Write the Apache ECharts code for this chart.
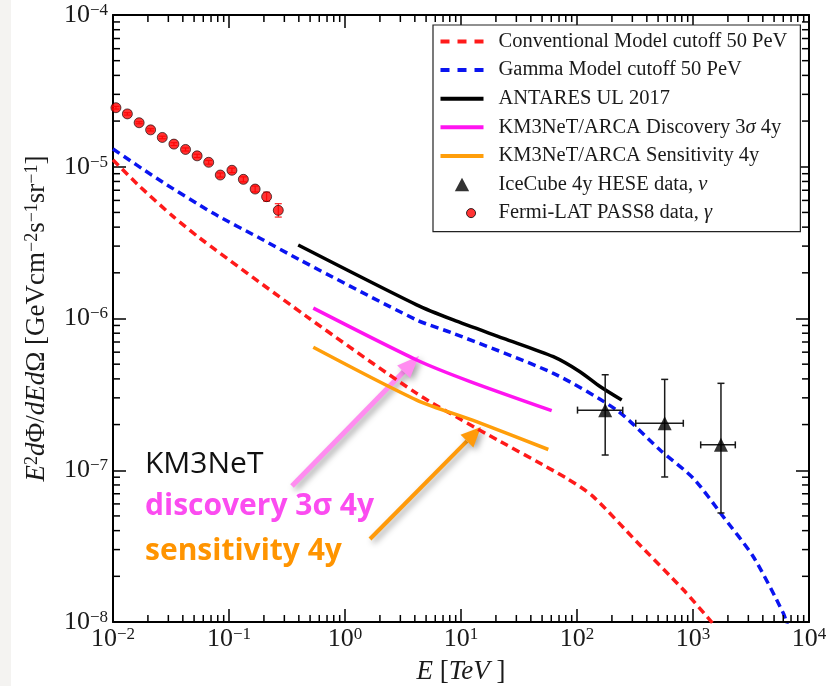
<!DOCTYPE html>
<html><head><meta charset="utf-8">
<script src="https://cdn.jsdelivr.net/npm/echarts@6/dist/echarts.min.js"></script>
<style>html,body{margin:0;padding:0;background:#fff;}#c{width:837px;height:686px;}</style>
</head><body><div id="c"></div>
<script>
// ---------------- data ----------------
const conventionalE = [0.01, 0.0171, 0.0331, 0.0562, 0.468, 4.15, 13.6, 81.5, 138, 327, 826, 1355, 1710];
const conventionalF = [1.11e-5, 7.39e-6, 4.69e-6, 3.38e-6, 1.03e-6, 3.21e-7, 1.89e-7, 8.85e-8, 6.7e-8, 3.38e-8, 1.63e-8, 1.06e-8, 8.6e-9];

const gammaE = [0.01, 0.0238, 0.0733, 0.185, 0.409, 4.15, 8.59, 62.5, 220, 520, 1007, 1824, 3311, 6010, 6800];
const gammaF = [1.31e-5, 8.39e-6, 4.93e-6, 3.38e-6, 2.43e-6, 9.78e-7, 7.98e-7, 4.35e-7, 2.49e-7, 1.36e-7, 8.85e-8, 4.94e-8, 2.69e-8, 1.14e-8, 8.5e-9];

const antaresE = [0.395, 4.15, 8.59, 23.2, 62.5, 106, 158, 243];
const antaresF = [3.05e-6, 1.23e-6, 9.78e-7, 7.40e-7, 5.6e-7, 4.46e-7, 3.56e-7, 2.90e-7];

const discoveryE = [0.533, 4.15, 12.0, 60.5];
const discoveryF = [1.17e-6, 5.33e-7, 3.84e-7, 2.47e-7];

const sensitivityE = [0.533, 4.15, 13.6, 56.6];
const sensitivityF = [6.46e-7, 2.90e-7, 2.09e-7, 1.37e-7];

const iceE    = [175, 570, 1742];
const iceELo  = [101, 321, 1165];
const iceEHi  = [248, 825, 2316];
const iceF    = [2.49e-7, 2.04e-7, 1.47e-7];
const iceFLo  = [1.26e-7, 9.03e-8, 5.23e-8];
const iceFHi  = [4.26e-7, 3.97e-7, 3.74e-7];

const fermiE   = [0.0106, 0.0133, 0.0168, 0.0211, 0.0266, 0.0335, 0.0422, 0.0531, 0.0668, 0.0841, 0.106, 0.133, 0.168, 0.211, 0.266];
const fermiF   = [2.45e-5, 2.23e-5, 1.95e-5, 1.75e-5, 1.56e-5, 1.41e-5, 1.30e-5, 1.18e-5, 1.07e-5, 8.82e-6, 9.48e-6, 8.26e-6, 7.13e-6, 6.35e-6, 5.16e-6];
const fermiFLo = [2.40e-5, 2.19e-5, 1.92e-5, 1.72e-5, 1.53e-5, 1.38e-5, 1.27e-5, 1.15e-5, 1.04e-5, 8.55e-6, 9.15e-6, 7.95e-6, 6.82e-6, 5.93e-6, 4.66e-6];
const fermiFHi = [2.50e-5, 2.27e-5, 1.98e-5, 1.78e-5, 1.59e-5, 1.44e-5, 1.33e-5, 1.21e-5, 1.10e-5, 9.10e-6, 9.80e-6, 8.58e-6, 7.46e-6, 6.80e-6, 5.71e-6];

const xDecades = [-2, -1, 0, 1, 2, 3];
const yDecades = [-8, -7, -6, -5];
const minorMult = [2, 3, 4, 5, 6, 7, 8, 9];

const seriesNames = [
  'Conventional Model cutoff 50 PeV',
  'Gamma Model cutoff 50 PeV',
  'ANTARES UL 2017',
  'KM3NeT/ARCA Discovery 3σ 4y',
  'KM3NeT/ARCA Sensitivity 4y',
  'IceCube 4y HESE data, ν',
  'Fermi-LAT PASS8 data, γ'
];
// ---------------- helpers ----------------
const SERIF = 'Liberation Serif';
const zip = (a, b) => a.map((v, i) => [v, b[i]]);
const minorX = [], minorY = [];
xDecades.forEach(d => minorMult.forEach(m => minorX.push([m * Math.pow(10, d), 1e-6])));
yDecades.forEach(d => minorMult.forEach(m => minorY.push([1, m * Math.pow(10, d)])));

function expLabel(v) {
  const e = Math.round(Math.log10(v));
  return '{b|10}{s|' + (e < 0 ? '\u2212' + (-e) : e) + '}';
}
const labelRich = {
  b: {fontFamily: SERIF, fontSize: 26, color: '#1a1a1a'},
  s: {fontFamily: SERIF, fontSize: 17, color: '#1a1a1a', verticalAlign: 'top'}
};
const nameRich = {
  i: {fontFamily: SERIF, fontSize: 27, fontStyle: 'italic', color: '#1a1a1a'},
  r: {fontFamily: SERIF, fontSize: 27, color: '#1a1a1a'},
  s: {fontFamily: SERIF, fontSize: 18, color: '#1a1a1a', verticalAlign: 'top'}
};
const xNameRich = {
  i: {fontFamily: SERIF, fontSize: 27, fontStyle: 'italic', color: '#1a1a1a'},
  r: {fontFamily: SERIF, fontSize: 27, color: '#1a1a1a'}
};
const axisLine = {show: true, lineStyle: {color: '#000', width: 2}};
const axisTick = {show: true, inside: true, length: 13, lineStyle: {color: '#000', width: 1.5}};

function makeLine(name, e, f, color, dashed) {
  return {
    name, type: 'line', data: zip(e, f), showSymbol: false, symbol: 'none',
    smooth: 0.25, clip: true,
    lineStyle: {color, width: 3.5, type: dashed ? [8, 5] : 'solid', join: 'round'},
    itemStyle: {color}, z: 3
  };
}

const dashIcon = 'path://M0,0h9v4h-9z M17,0h9v4h-9z M34,0h9v4h-9z';
const solidIcon = 'path://M0,0h43v4h-43z';
const LF = 20.5;

const chart = echarts.init(document.getElementById('c'), null, {renderer: 'canvas'});
const option = {
  backgroundColor: '#fff',
  animation: false,
  grid: {left: 113, right: 28, top: 15, bottom: 64, containLabel: false, outerBoundsMode: 'none'},
  xAxis: [
    {type: 'log', logBase: 10, min: 0.01, max: 10000, position: 'bottom',
     axisLine, axisTick, splitLine: {show: false},
     axisLabel: {formatter: expLabel, rich: labelRich, margin: 4, showMinLabel: true, showMaxLabel: true},
     name: '{i|E}{r| [}{i|TeV}{r| ]}', nameLocation: 'middle', nameGap: 36,
     nameTextStyle: {rich: xNameRich}},
    {type: 'log', logBase: 10, min: 0.01, max: 10000, position: 'top',
     axisLine, axisTick, splitLine: {show: false}, axisLabel: {show: false}}
  ],
  yAxis: [
    {type: 'log', logBase: 10, min: 1e-8, max: 1e-4, position: 'left',
     axisLine, axisTick, splitLine: {show: false},
     axisLabel: {formatter: expLabel, rich: labelRich, margin: 5, showMinLabel: true, showMaxLabel: true},
     name: '{i|E}{s|2}{i|d}{r|Φ/}{i|dEd}{r|Ω [GeVcm}{s|\u22122}{r|s}{s|\u22121}{r|sr}{s|\u22121}{r|]}',
     nameLocation: 'middle', nameGap: 63, nameRotate: 90,
     nameTextStyle: {rich: nameRich}},
    {type: 'log', logBase: 10, min: 1e-8, max: 1e-4, position: 'right',
     axisLine, axisTick, splitLine: {show: false}, axisLabel: {show: false}}
  ],
  legend: {
    orient: 'vertical', left: 433, top: 25, padding: [6, 13, 8, 7],
    itemWidth: 43, itemHeight: 14, itemGap: 7.6, symbolKeepAspect: true,
    backgroundColor: '#fff', borderColor: '#222', borderWidth: 1.2, borderRadius: 0,
    selectedMode: false,
    itemStyle: {borderWidth: 0},
    textStyle: {fontFamily: SERIF, fontSize: LF, color: '#1a1a1a', padding: [0, 0, 0, 10],
      rich: {
        g: {fontFamily: SERIF, fontSize: LF, color: '#1a1a1a', fontStyle: 'italic'}
      }},
    formatter: function (name) {
      return name.replace(/[σνγ]/g, c => '{g|' + c + '}');
    },
    data: [
      {name: seriesNames[0], icon: dashIcon},
      {name: seriesNames[1], icon: dashIcon},
      {name: seriesNames[2], icon: solidIcon},
      {name: seriesNames[3], icon: solidIcon},
      {name: seriesNames[4], icon: solidIcon},
      {name: seriesNames[5], icon: 'path://M0,13L7,0L14,13Z M-14,6.5L-14,6.5 M28,6.5L28,6.5'},
      {name: seriesNames[6], icon: 'path://M9,5A4,4 0 1 1 9,5.01Z M-14,5L-14,5 M24,5L24,5', itemStyle: {borderColor: '#000', borderWidth: 1}}
    ]
  },
  series: [
    makeLine(seriesNames[0], conventionalE, conventionalF, '#ff1a1a', true),
    makeLine(seriesNames[1], gammaE, gammaF, '#0a14f0', true),
    makeLine(seriesNames[2], antaresE, antaresF, '#000000', false),
    makeLine(seriesNames[3], discoveryE, discoveryF, '#ff14f0', false),
    makeLine(seriesNames[4], sensitivityE, sensitivityF, '#ff9e0a', false),
    {
      name: 'iceErr', type: 'custom', silent: true, z: 4,
      data: iceE.map((e, i) => [e, iceF[i], iceELo[i], iceEHi[i], iceFLo[i], iceFHi[i]]),
      encode: {x: 0, y: 1},
      renderItem: function (params, api) {
        const c = api.coord([api.value(0), api.value(1)]);
        const l = api.coord([api.value(2), api.value(1)]);
        const r = api.coord([api.value(3), api.value(1)]);
        const lo = api.coord([api.value(0), api.value(4)]);
        const hi = api.coord([api.value(0), api.value(5)]);
        const st = {stroke: '#1a1a1a', lineWidth: 1.5};
        const cap = 3.5;
        return {type: 'group', children: [
          {type: 'line', shape: {x1: l[0], y1: c[1], x2: r[0], y2: c[1]}, style: st},
          {type: 'line', shape: {x1: c[0], y1: lo[1], x2: c[0], y2: hi[1]}, style: st},
          {type: 'line', shape: {x1: l[0], y1: c[1] - cap, x2: l[0], y2: c[1] + cap}, style: st},
          {type: 'line', shape: {x1: r[0], y1: c[1] - cap, x2: r[0], y2: c[1] + cap}, style: st},
          {type: 'line', shape: {x1: c[0] - cap, y1: lo[1], x2: c[0] + cap, y2: lo[1]}, style: st},
          {type: 'line', shape: {x1: c[0] - cap, y1: hi[1], x2: c[0] + cap, y2: hi[1]}, style: st}
        ]};
      }
    },
    {
      name: seriesNames[5], type: 'scatter', symbol: 'triangle', symbolSize: 14, z: 5,
      data: zip(iceE, iceF), itemStyle: {color: '#000'}
    },
    {
      name: 'fermiErr', type: 'custom', silent: true, z: 4,
      data: fermiE.map((e, i) => [e, fermiF[i], fermiFLo[i], fermiFHi[i]]),
      encode: {x: 0, y: 1},
      renderItem: function (params, api) {
        const lo = api.coord([api.value(0), api.value(2)]);
        const hi = api.coord([api.value(0), api.value(3)]);
        const st = {stroke: '#ff2020', lineWidth: 1.2};
        const cap = 3.5;
        return {type: 'group', children: [
          {type: 'line', shape: {x1: lo[0], y1: lo[1], x2: hi[0], y2: hi[1]}, style: st},
          {type: 'line', shape: {x1: lo[0] - cap, y1: lo[1], x2: lo[0] + cap, y2: lo[1]}, style: st},
          {type: 'line', shape: {x1: hi[0] - cap, y1: hi[1], x2: hi[0] + cap, y2: hi[1]}, style: st}
        ]};
      }
    },
    {
      name: seriesNames[6], type: 'scatter', symbol: 'circle', symbolSize: 10, z: 5,
      data: zip(fermiE, fermiF), itemStyle: {color: '#ff0000', borderColor: '#000', borderWidth: 0.8}
    },
    {
      name: 'minorX', type: 'custom', silent: true, z: 6, data: minorX, encode: {x: 0, y: 1}, clip: false,
      renderItem: function (params, api) {
        const cs = params.coordSys;
        const x = api.coord([api.value(0), api.value(1)])[0];
        const st = {stroke: '#000', lineWidth: 1.5};
        return {type: 'group', children: [
          {type: 'line', shape: {x1: x, y1: cs.y + cs.height, x2: x, y2: cs.y + cs.height - 7}, style: st},
          {type: 'line', shape: {x1: x, y1: cs.y, x2: x, y2: cs.y + 7}, style: st}
        ]};
      }
    },
    {
      name: 'minorY', type: 'custom', silent: true, z: 6, data: minorY, encode: {x: 0, y: 1}, clip: false,
      renderItem: function (params, api) {
        const cs = params.coordSys;
        const y = api.coord([api.value(0), api.value(1)])[1];
        const st = {stroke: '#000', lineWidth: 1.5};
        return {type: 'group', children: [
          {type: 'line', shape: {x1: cs.x, y1: y, x2: cs.x + 7, y2: y}, style: st},
          {type: 'line', shape: {x1: cs.x + cs.width, y1: y, x2: cs.x + cs.width - 7, y2: y}, style: st}
        ]};
      }
    }
  ]
};
chart.setOption(option);

// ---------------- annotations ----------------
function arrow(tail, tip, color, width, headLen, headHalf) {
  const dx = tip[0] - tail[0], dy = tip[1] - tail[1];
  const L = Math.hypot(dx, dy), ux = dx / L, uy = dy / L;
  const nx = -uy, ny = ux;
  const bx = tip[0] - ux * headLen, by = tip[1] - uy * headLen;
  const shadow = {shadowBlur: 6, shadowColor: 'rgba(0,0,0,0.35)', shadowOffsetX: 3, shadowOffsetY: 3};
  return {type: 'group', z: 20, children: [
    {type: 'line', shape: {x1: tail[0], y1: tail[1], x2: bx, y2: by},
     style: Object.assign({stroke: color, lineWidth: width}, shadow)},
    {type: 'polygon', shape: {points: [[tip[0], tip[1]], [bx + nx * headHalf, by + ny * headHalf], [bx - nx * headHalf, by - ny * headHalf]]},
     style: Object.assign({fill: color}, shadow)}
  ]};
}
chart.setOption({
  graphic: [
    {type: 'rect', left: 0, top: 0, shape: {width: 11, height: 686}, style: {fill: '#f4f3f1'}, z: 0, silent: true},
    arrow([292, 486], [419, 356], '#ff8cf0', 5, 22, 9),
    arrow([370, 539], [481, 427], '#ff9a0a', 4, 20, 9),
    {type: 'text', x: 145, y: 464, z: 21, style: {text: 'KM3NeT', font: '400 30px "Open Sans"', fill: '#111', verticalAlign: 'middle'}},
    {type: 'text', x: 145, y: 506, z: 21, style: {text: 'discovery 3σ 4y', font: '700 30px "Open Sans"', fill: '#fb4cf0', verticalAlign: 'middle'}},
    {type: 'text', x: 145, y: 551, z: 21, style: {text: 'sensitivity 4y', font: '700 30px "Open Sans"', fill: '#ff9400', verticalAlign: 'middle'}}
  ]
});
</script>
</body></html>
